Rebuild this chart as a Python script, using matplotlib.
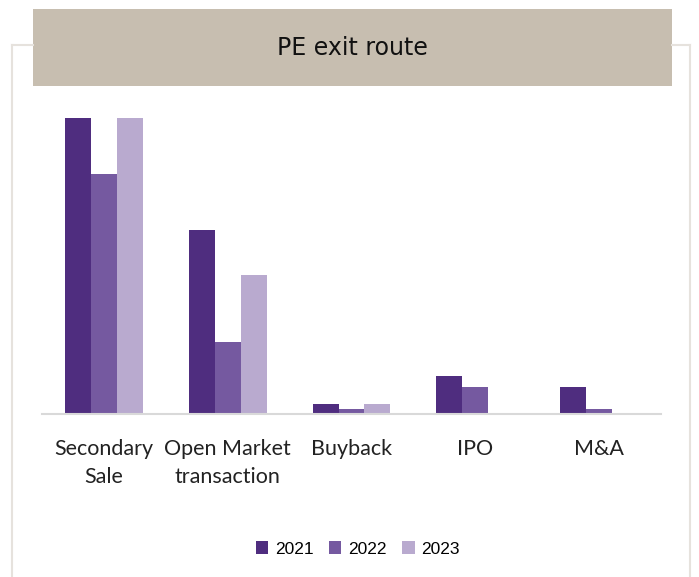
import numpy as np
import matplotlib.pyplot as plt
from matplotlib.patches import Rectangle
from matplotlib.lines import Line2D

categories = ['Secondary\nSale', 'Open Market\ntransaction', 'Buyback', 'IPO', 'M&A']
years = ['2021', '2022', '2023']
v2021 = [29.6, 18.4, 1.0, 3.8, 2.7]
v2022 = [24.0, 7.2, 0.5, 2.7, 0.5]
v2023 = [29.6, 13.9, 1.0, 0.0, 0.0]
colors = ['#4f2d7f', '#7559a0', '#b9aacf']

W, H = 699, 577
fig = plt.figure(figsize=(W / 100, H / 100), dpi=100)

def fx(px):
    return px / W

def fy(py):
    return 1 - py / H

# outer frame
frame_c = '#e6e2dd'
for xs, ys in [([12, 12], [45, 577]), ([12, 33], [45, 45]),
               ([672, 690], [45, 45]), ([690, 690], [45, 577])]:
    fig.add_artist(Line2D([fx(x) for x in xs], [fy(y) for y in ys],
                          color=frame_c, lw=1.5))

# title box
fig.add_artist(Rectangle((fx(33), fy(86)), fx(672) - fx(33), fy(9) - fy(86),
                         transform=fig.transFigure, facecolor='#c7beb0',
                         edgecolor='none'))
fig.text(fx(352), fy(48), 'PE exit route', ha='center', va='center',
         fontsize=17, family='DejaVu Sans', color='#111111')

ax = fig.add_axes([fx(42), fy(414), fx(661) - fx(42), fy(100) - fy(414)])
x = np.arange(len(categories))
w = 0.21
for i, (vals, yr) in enumerate(zip([v2021, v2022, v2023], years)):
    ax.bar(x + (i - 1) * w, vals, width=w, color=colors[i], label=yr)

ax.set_xlim(-0.5, len(categories) - 0.5)
ax.set_ylim(0, 31.4)
ax.set_yticks([])
for s in ['top', 'right', 'left']:
    ax.spines[s].set_visible(False)
ax.spines['bottom'].set_color('#d9d9d9')
ax.spines['bottom'].set_linewidth(1.5)
ax.set_xticks(x)
ax.set_xticklabels(categories, fontsize=15.5, family='Lato', color='#222222',
                   linespacing=1.5)
ax.tick_params(axis='x', length=0, pad=18)

ax.legend(loc='center', bbox_to_anchor=(fx(358), fy(549)),
          bbox_transform=fig.transFigure, ncol=3, frameon=False,
          prop={'family': 'Liberation Sans', 'size': 12.5},
          handlelength=0.7, handleheight=0.7, handletextpad=0.4,
          columnspacing=0.9)

plt.savefig('out.png', dpi=100)
